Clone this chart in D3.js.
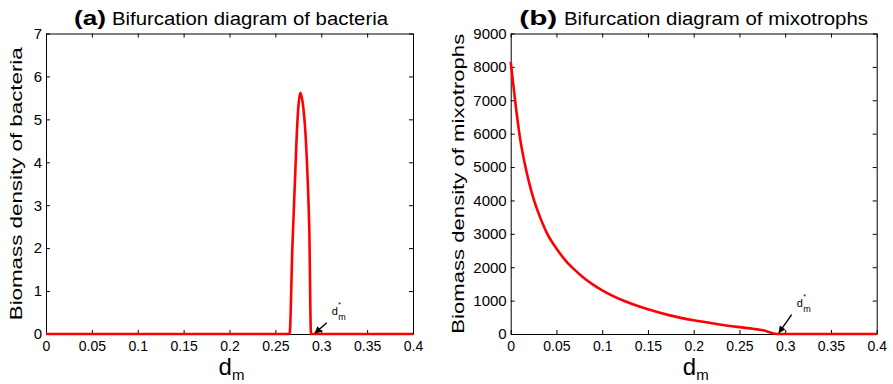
<!DOCTYPE html>
<html>
<head>
<meta charset="utf-8">
<script src="https://cdn.jsdelivr.net/npm/d3@7"></script>
<style>
  body { margin: 0; background: #fff; }
  svg { font-family: "Liberation Sans", Arial, Helvetica, sans-serif; }
</style>
</head>
<body>
<script>
// values
const dmTicks = [0, 0.05, 0.1, 0.15, 0.2, 0.25, 0.3, 0.35, 0.4];
const dmTickLabels = ['0', '0.05', '0.1', '0.15', '0.2', '0.25', '0.3', '0.35', '0.4'];

const bactTicks = [0, 1, 2, 3, 4, 5, 6, 7];
const mixoTicks = [0, 1000, 2000, 3000, 4000, 5000, 6000, 7000, 8000, 9000];

// (a) bacteria
const dmA = [0, 0.2655, 0.2685, 0.2714, 0.2739, 0.2755, 0.2772, 0.2797, 0.283, 0.2852, 0.287, 0.2888, 0.4];
const bacteria = [0, 0, 2.0, 3.6, 4.9, 5.4, 5.62, 5.4, 4.6, 3.6, 2.4, 0, 0];

// (b) mixotrophs
const dmB = [0, 0.005, 0.01, 0.015, 0.02, 0.025, 0.03, 0.035, 0.04, 0.05, 0.06, 0.07, 0.08, 0.09, 0.1,
             0.125, 0.15, 0.175, 0.2, 0.225, 0.25, 0.265, 0.276, 0.2907, 0.4];
const mixotrophs = [8150, 6950, 5900, 5150, 4550, 4050, 3650, 3300, 3000, 2560, 2200, 1920, 1680, 1480, 1310,
                    980, 740, 550, 410, 300, 205, 155, 110, 0, 0];

// threshold d_m* annotation: arrow tip, tail and label in data units
const starA = { tip: [0.2932, 0.02], tail: [0.306, 0.26], label: [0.3115, 0.45] };
const starB = { tip: [0.2932, 40], tail: [0.3071, 580], label: [0.3125, 820] };

const W = 893, H = 384;
const svg = d3.select('body').append('svg').attr('width', W).attr('height', H);

svg.append('defs').append('marker')
  .attr('id', 'head')
  .attr('viewBox', '0 0 10 10')
  .attr('refX', 9).attr('refY', 5)
  .attr('markerWidth', 8).attr('markerHeight', 7)
  .attr('markerUnits', 'userSpaceOnUse')
  .attr('orient', 'auto')
  .append('path').attr('d', 'M0,0L10,5L0,10z').attr('fill', '#000');

function panel(o) {
  const x = d3.scaleLinear().domain([0, 0.4]).range([o.left, o.right]);
  const y = d3.scaleLinear().domain(o.ydomain).range([334, 33.5]);
  const g = svg.append('g');

  g.append('g').attr('transform', `translate(0,${y.range()[0]})`)
    .call(d3.axisBottom(x).tickValues(dmTicks).tickFormat((d, i) => dmTickLabels[i])
      .tickSizeInner(-4).tickSizeOuter(0).tickPadding(7))
    .selectAll('.tick text').attr('font-size', 14);
  g.append('g').attr('transform', `translate(0,${y.range()[1]})`)
    .call(d3.axisTop(x).tickValues(dmTicks).tickFormat('').tickSizeInner(-4).tickSizeOuter(0));
  g.append('g').attr('transform', `translate(${o.left},0)`)
    .call(d3.axisLeft(y).tickValues(o.yticks).tickFormat(d3.format('d'))
      .tickSizeInner(-4).tickSizeOuter(0).tickPadding(4))
    .selectAll('.tick text').attr('font-size', 15);
  g.append('g').attr('transform', `translate(${o.right},0)`)
    .call(d3.axisRight(y).tickValues(o.yticks).tickFormat('').tickSizeInner(-4).tickSizeOuter(0));

  g.selectAll('.domain').attr('stroke', '#000').attr('stroke-width', 1);
  g.selectAll('.tick line').attr('stroke', '#000');
  g.selectAll('.tick text').attr('fill', '#000');

  const line = d3.line().x((d, i) => x(o.xs[i])).y(d => y(d)).curve(d3.curveMonotoneX);
  g.append('path').datum(o.ys)
    .attr('d', line)
    .attr('fill', 'none')
    .attr('stroke', '#ff0000')
    .attr('stroke-width', 2.6)
    .attr('stroke-linejoin', 'round');

  // arrow and d_m* label
  const s = o.star;
  g.append('line')
    .attr('x1', x(s.tail[0])).attr('y1', y(s.tail[1]))
    .attr('x2', x(s.tip[0])).attr('y2', y(s.tip[1]))
    .attr('stroke', '#000').attr('stroke-width', 1.4)
    .attr('marker-end', 'url(#head)');
  const lx = x(s.label[0]), ly = y(s.label[1]);
  g.append('text').attr('x', lx).attr('y', ly).attr('font-size', 11).text('d');
  g.append('text').attr('x', lx + 6.5).attr('y', ly - 8).attr('font-size', 7).text('*');
  g.append('text').attr('x', lx + 6.5).attr('y', ly + 5).attr('font-size', 9).text('m');

  // title
  g.append('text').attr('x', o.titleX[0]).attr('y', 25)
    .attr('font-size', 21).attr('font-weight', 'bold')
    .attr('textLength', o.titleW[0]).attr('lengthAdjust', 'spacingAndGlyphs')
    .text(o.tag);
  g.append('text').attr('x', o.titleX[1]).attr('y', 25)
    .attr('font-size', 18)
    .attr('textLength', o.titleW[1]).attr('lengthAdjust', 'spacingAndGlyphs')
    .text(o.title);

  // x label d_m
  const cx = (o.left + o.right) / 2;
  const xl = g.append('text').attr('x', cx + 2).attr('y', 375).attr('text-anchor', 'middle').attr('font-size', 24);
  xl.append('tspan').text('d');
  xl.append('tspan').attr('font-size', 15).attr('dy', 5).text('m');

  // y label
  g.append('text')
    .attr('transform', `translate(${o.ylabelX},${(y.range()[0] + y.range()[1]) / 2}) rotate(-90)`)
    .attr('text-anchor', 'middle').attr('font-size', 17)
    .attr('textLength', o.ylabelW).attr('lengthAdjust', 'spacingAndGlyphs')
    .text(o.ylabel);
}

panel({
  left: 46, right: 413, ydomain: [0, 7], yticks: bactTicks,
  xs: dmA, ys: bacteria, star: starA,
  tag: '(a)', title: 'Bifurcation diagram of bacteria',
  titleX: [74, 112], titleW: [32, 276],
  ylabel: 'Biomass density of bacteria', ylabelX: 22, ylabelW: 273
});

panel({
  left: 510.7, right: 876.7, ydomain: [0, 9000], yticks: mixoTicks,
  xs: dmB, ys: mixotrophs, star: starB,
  tag: '(b)', title: 'Bifurcation diagram of mixotrophs',
  titleX: [519.3, 564], titleW: [38, 304],
  ylabel: 'Biomass density of mixotrophs', ylabelX: 464, ylabelW: 300
});
</script>
</body>
</html>
